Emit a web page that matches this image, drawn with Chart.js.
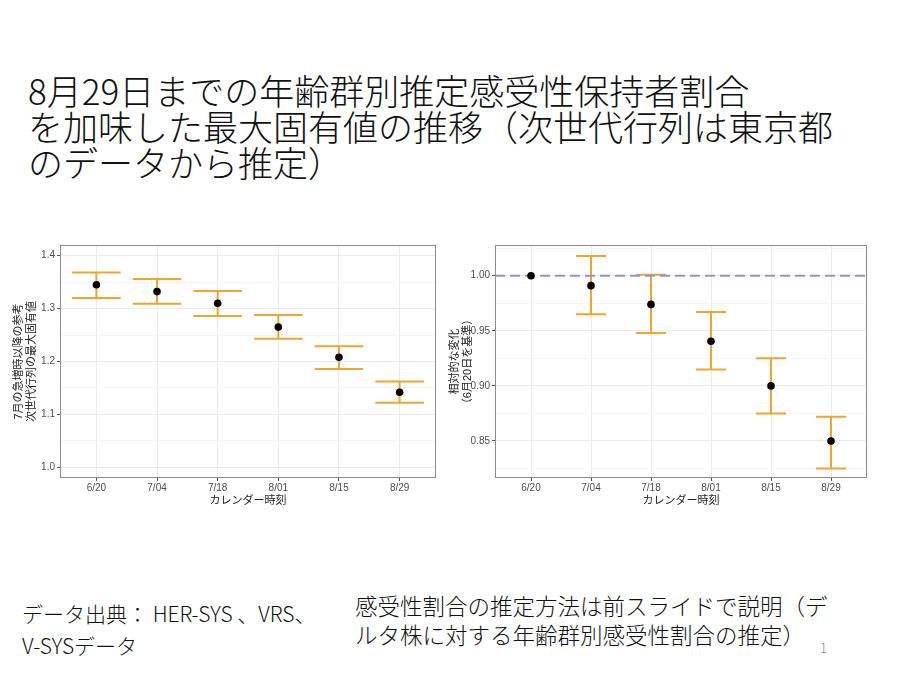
<!DOCTYPE html>
<html lang="ja">
<head>
<meta charset="UTF-8">
<title>最大固有値の推移</title>
<script src="https://cdn.jsdelivr.net/npm/chart.js@4.4.1/dist/chart.umd.min.js"></script>
<style>
  body { margin: 0; background: #fff; }
  .slide { position: relative; width: 900px; height: 674px; overflow: hidden; font-family: 'Noto Sans CJK JP', sans-serif; color: #111; }
  .title { position: absolute; left: 28px; top: 72px; font-size: 35px; line-height: 36px; font-weight: 300; white-space: nowrap; }
  .note { position: absolute; white-space: nowrap; font-weight: 300; }
  .panel { position: absolute; top: 235px; width: 440px; height: 280px; }
</style>
</head>
<body>
<div class="slide">
  <div class="title">8月29日までの年齢群別推定感受性保持者割合<br>を加味した最大固有値の推移（次世代行列は東京都<br>のデータから推定）</div>

  <div class="panel" style="left:0px"><canvas id="left" width="440" height="280"></canvas></div>
  <div class="panel" style="left:440px"><canvas id="right" width="440" height="280"></canvas></div>

  <div class="note" style="left:22px; top:597px; font-size:21px; line-height:32px;">データ出典： HER-SYS 、VRS、<br>V-SYSデータ</div>
  <div class="note" style="left:355px; top:591px; font-size:22.5px; line-height:29px;">感受性割合の推定方法は前スライドで説明（デ<br>ルタ株に対する年齢群別感受性割合の推定）</div>
  <div class="note" style="left:820px; top:638px; font-size:13px; color:#8a8a8a;">1</div>
</div>

<script>
// カレンダー時刻
const dateLabels = ['6/20', '7/04', '7/18', '8/01', '8/15', '8/29'];

// 左: 最大固有値 (点推定と区間)
const eigenMid  = [1.345, 1.332, 1.310, 1.265, 1.208, 1.142];
const eigenLow  = [1.320, 1.309, 1.286, 1.243, 1.186, 1.122];
const eigenHigh = [1.368, 1.356, 1.333, 1.288, 1.229, 1.162];

// 右: 6/20 を基準とした相対変化
const relMid  = [1.000, 0.991, 0.974, 0.9405, 0.900, 0.850];
const relLow  = [null, 0.965, 0.948, 0.915, 0.875, 0.825];
const relHigh = [null, 1.018, 1.001, 0.967, 0.925, 0.872];
const relRef = 1.0;

// 目盛
const leftMajor  = [1.0, 1.1, 1.2, 1.3, 1.4];
const leftMinor  = [1.05, 1.15, 1.25, 1.35];
const rightMajor = [0.85, 0.90, 0.95, 1.00];
const rightMinor = [0.825, 0.875, 0.925, 0.975, 1.025];

const ORANGE = '#f2a42c';
const TICK_FONT = { family: "'Liberation Sans', Arial, sans-serif", size: 10 };
const TITLE_FONT = { family: "'Liberation Sans', 'Noto Sans CJK JP', sans-serif", size: 11 };

// エラーバーを線分の列にする (null で線を切る)
function errorBarPoints(low, high, halfW) {
  const pts = [];
  low.forEach((lo, i) => {
    const hi = high[i];
    if (lo === null) return;
    pts.push({x: i - halfW, y: hi}, {x: i + halfW, y: hi}, {x: i, y: null});
    pts.push({x: i, y: hi}, {x: i, y: lo}, {x: i, y: null});
    pts.push({x: i - halfW, y: lo}, {x: i + halfW, y: lo}, {x: i, y: null});
  });
  return pts;
}

const panelBorder = {
  id: 'panelBorder',
  afterDatasetsDraw(chart) {
    const { ctx, chartArea: a } = chart;
    ctx.save();
    ctx.strokeStyle = '#8c8c8c';
    ctx.lineWidth = 1;
    ctx.strokeRect(Math.round(a.left) + 0.5, Math.round(a.top) + 0.5,
                   Math.round(a.right - a.left) - 1, Math.round(a.bottom - a.top) - 1);
    ctx.restore();
  }
};

function makeChart(id, cfg) {
  const majorSet = new Set(cfg.major.map(v => v.toFixed(3)));
  const yTicks = cfg.major.concat(cfg.minor).sort((a, b) => a - b);
  const isMajor = v => majorSet.has(v.toFixed(3));

  return new Chart(document.getElementById(id), {
    type: 'scatter',
    data: { datasets: cfg.datasets },
    options: {
      responsive: false,
      animation: false,
      layout: { padding: { top: 10, right: cfg.padRight, left: 0, bottom: 0 } },
      plugins: { legend: { display: false }, tooltip: { enabled: false } },
      scales: {
        x: {
          type: 'linear',
          min: -0.6, max: 5.6,
          afterBuildTicks: s => { s.ticks = dateLabels.map((d, i) => ({ value: i })); },
          afterFit: s => { s.height = 37; },
          ticks: {
            font: TICK_FONT, color: '#4d4d4d', padding: 1, maxRotation: 0, autoSkip: false,
            callback: v => dateLabels[v]
          },
          grid: { color: '#ebebeb', lineWidth: 1, tickLength: 3, tickColor: '#555' },
          border: { display: false },
          title: { display: true, text: 'カレンダー時刻', font: TITLE_FONT, color: '#222', padding: { top: 0, bottom: 7 } }
        },
        y: {
          type: 'linear',
          min: cfg.yMin, max: cfg.yMax,
          afterBuildTicks: s => { s.ticks = yTicks.map(v => ({ value: v })); },
          afterFit: s => { s.width = cfg.yWidth; },
          ticks: {
            font: TICK_FONT, color: '#4d4d4d', padding: 2, autoSkip: false,
            callback: v => isMajor(v) ? v.toFixed(cfg.digits) : ''
          },
          grid: {
            color: c => isMajor(c.tick.value) ? '#ebebeb' : '#f5f5f5',
            lineWidth: 1,
            tickLength: 3,
            tickColor: c => isMajor(c.tick.value) ? '#555' : 'rgba(0,0,0,0)'
          },
          border: { display: false },
          title: { display: true, text: cfg.yTitle, font: TITLE_FONT, color: '#222', padding: { top: cfg.titlePad, bottom: 0 } }
        }
      }
    },
    plugins: [panelBorder]
  });
}

makeChart('left', {
  yMin: 0.98, yMax: 1.42, digits: 1, yWidth: 60, padRight: 4, titlePad: 12,
  major: leftMajor, minor: leftMinor,
  yTitle: ['7月の急増時以降の参考', '次世代行列の最大固有値'],
  datasets: [
    { data: eigenMid.map((y, i) => ({ x: i, y })), pointRadius: 3.8, backgroundColor: '#000', borderWidth: 0 },
    { data: errorBarPoints(eigenLow, eigenHigh, 0.4), showLine: true, spanGaps: false,
      borderColor: ORANGE, borderWidth: 2, pointRadius: 0 }
  ]
});

makeChart('right', {
  yMin: 0.8164, yMax: 1.0279, digits: 2, yWidth: 55, padRight: 13, titlePad: 8,
  major: rightMajor, minor: rightMinor,
  yTitle: ['相対的な変化', '（6月20日を基準）'],
  datasets: [
    { data: relMid.map((y, i) => ({ x: i, y })), pointRadius: 3.8, backgroundColor: '#000', borderWidth: 0 },
    { data: [{ x: -0.6, y: relRef }, { x: 5.6, y: relRef }], showLine: true,
      borderColor: '#8b95d6', borderWidth: 2, borderDash: [10, 5], pointRadius: 0 },
    { data: errorBarPoints(relLow, relHigh, 0.25), showLine: true, spanGaps: false,
      borderColor: ORANGE, borderWidth: 2, pointRadius: 0 }
  ]
});
</script>
</body>
</html>
